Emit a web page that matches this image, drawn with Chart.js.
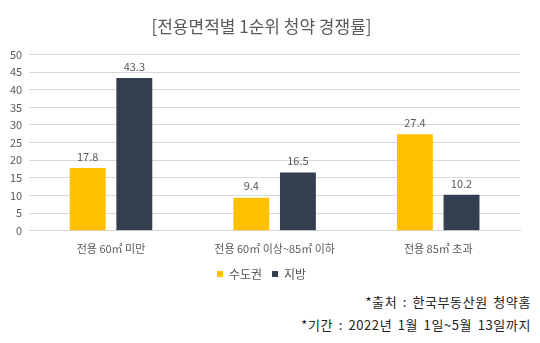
<!DOCTYPE html>
<html>
<head>
<meta charset="utf-8">
<script src="https://cdn.jsdelivr.net/npm/chart.js@4"></script>
<style>
  html, body { margin: 0; padding: 0; background: #fff; }
  body { width: 540px; height: 343px; position: relative; font-family: "Noto Sans CJK KR", "Noto Sans", sans-serif; }
  #wrap { position: absolute; left: 0; top: 0; width: 540px; height: 290px; }
  .note { position: absolute; right: 9px; font-size: 13px; letter-spacing: 0.6px; word-spacing: 2px; color: #222; white-space: nowrap; }
</style>
</head>
<body>
<div id="wrap"><canvas id="chart"></canvas></div>
<div class="note" style="top:292px;">*출처 : 한국부동산원 청약홈</div>
<div class="note" style="top:315px;">*기간 : 2022년 1월 1일~5월 13일까지</div>
<script>
const categories = ['전용 60㎡ 미만', '전용 60㎡ 이상~85㎡ 이하', '전용 85㎡ 초과'];
const metroValues = [17.8, 9.4, 27.4];
const localValues = [43.3, 16.5, 10.2];
const seriesNames = ['수도권', '지방'];

// 막대 위에 값 표시
const valueLabels = {
    id: 'valueLabels',
    afterDatasetsDraw(chart) {
        const ctx = chart.ctx;
        ctx.save();
        ctx.font = '11px "Noto Sans CJK KR", sans-serif';
        ctx.fillStyle = '#595959';
        ctx.textAlign = 'center';
        ctx.textBaseline = 'bottom';
        chart.data.datasets.forEach(function(ds, i) {
            chart.getDatasetMeta(i).data.forEach(function(bar, j) {
                ctx.fillText(ds.data[j].toFixed(1), bar.x, bar.y - 6);
            });
        });
        ctx.restore();
    }
};

const ctx = document.getElementById('chart').getContext('2d');
new Chart(ctx, {
    type: 'bar',
    data: {
        labels: categories,
        datasets: [
            { label: seriesNames[0], data: metroValues, backgroundColor: '#FFC000' },
            { label: seriesNames[1], data: localValues, backgroundColor: '#333F50' }
        ]
    },
    options: {
        responsive: true,
        maintainAspectRatio: false,
        animation: false,
        layout: { padding: { left: 3, right: 20, top: 8, bottom: 0 } },
        datasets: { bar: { categoryPercentage: 0.57, barPercentage: 0.77 } },
        plugins: {
            title: {
                display: true,
                text: '[전용면적별 1순위 청약 경쟁률]',
                color: '#595959',
                font: { size: 17, family: '"Noto Sans CJK KR", sans-serif', weight: 'normal' },
                padding: { top: 8, bottom: 18 }
            },
            legend: {
                position: 'bottom',
                labels: {
                    boxWidth: 6,
                    boxHeight: 6,
                    padding: 10,
                    color: '#595959',
                    font: { size: 12, family: '"Noto Sans CJK KR", sans-serif' }
                }
            },
            tooltip: { enabled: false }
        },
        scales: {
            x: {
                grid: { display: false },
                border: { color: '#d9d9d9' },
                ticks: { padding: 3, color: '#595959', font: { size: 11, family: '"Noto Sans CJK KR", sans-serif' } }
            },
            y: {
                min: 0,
                max: 50,
                ticks: { stepSize: 5, padding: 7, color: '#595959', font: { size: 11, family: '"Noto Sans CJK KR", sans-serif' } },
                grid: { color: '#d9d9d9', drawTicks: false },
                border: { display: false }
            }
        }
    },
    plugins: [valueLabels]
});
</script>
</body>
</html>
